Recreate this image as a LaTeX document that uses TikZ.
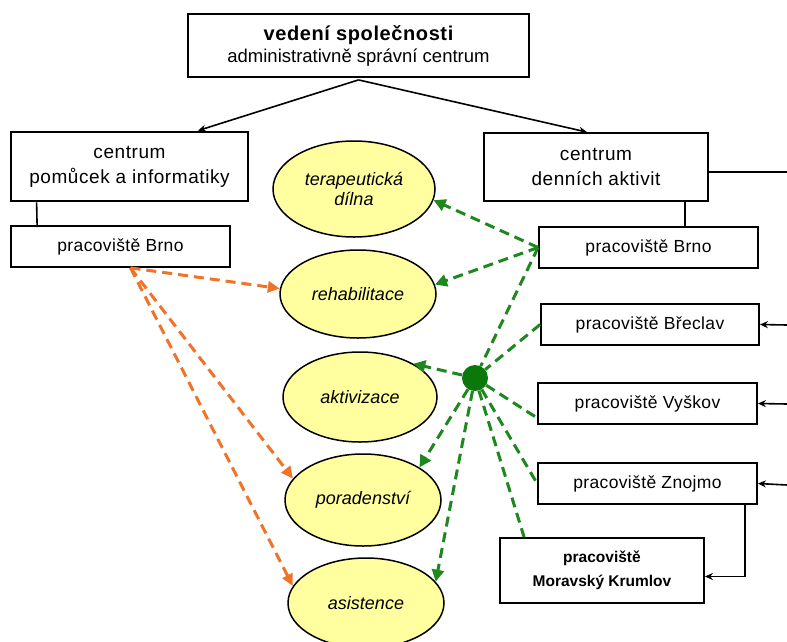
\documentclass[tikz,border=0pt]{standalone}
\usepackage{fontspec}
\setmainfont{Liberation Sans}
\usetikzlibrary{arrows.meta,shapes.geometric,calc}
\definecolor{grn}{RGB}{30,135,30}
\definecolor{dotgrn}{RGB}{10,120,10}
\definecolor{org}{RGB}{240,115,40}
\definecolor{yel}{RGB}{255,255,160}
\begin{document}
\begin{tikzpicture}[x=1pt,y=-1pt,
  box/.style={draw=black, line width=1.8pt, fill=white, inner sep=0pt, align=center,
    font=\addfontfeatures{LetterSpace=3}\fontsize{19}{25}\selectfont},
  pbox/.style={box, font=\addfontfeatures{LetterSpace=2}\fontsize{17.5}{21}\selectfont},
  oval/.style={ellipse, draw=black, line width=1.5pt, fill=yel, inner sep=0pt, align=center,
    font=\fontsize{18}{20}\selectfont\itshape},
  thin/.style={draw=black, line width=1.6pt},
  thinarrow/.style={thin, -{Stealth[length=8pt,width=7pt]}},
  gline/.style={draw=grn, line width=3pt, dash pattern=on 10pt off 6pt},
  garrow/.style={gline, -{Triangle[length=12pt,width=12pt]}},
  oline/.style={draw=org, line width=3pt, dash pattern=on 10pt off 6pt},
  oarrow/.style={oline, -{Triangle[length=12pt,width=11pt]}}
]
\useasboundingbox[fill=white] (0,0) rectangle (787,641);

% boxes
\node[box, minimum width=341pt, minimum height=63pt] (top) at (358.5,45.5)
  {{\fontsize{20}{24}\selectfont\bfseries vedení společnosti}\\[-3pt]
   {\addfontfeatures{LetterSpace=0}\fontsize{18.5}{20}\selectfont administrativně správní centrum}};
\node[box, line width=2.8pt, minimum width=237pt, minimum height=69pt] (cpi) at (129.5,166.5)
  {centrum\\pomůcek a informatiky};
\node[pbox, minimum width=219pt, minimum height=41pt] (lbrno) at (120.5,246.5) {pracoviště Brno};
\node[box, minimum width=224pt, minimum height=68pt] (cda) at (596,167)
  {centrum\\denních aktivit};
\node[pbox, minimum width=219pt, minimum height=41pt] (rbrno) at (648.5,247.5) {pracoviště Brno};
\node[pbox, minimum width=218pt, minimum height=41pt] (breclav) at (650,324.5) {pracoviště Břeclav};
\node[pbox, minimum width=219pt, minimum height=41pt] (vyskov) at (647.5,403.5) {pracoviště Vyškov};
\node[pbox, minimum width=219pt, minimum height=41pt] (znojmo) at (647.5,483.5) {pracoviště Znojmo};
\node[box, font=\bfseries\fontsize{15.5}{24}\selectfont, minimum width=204pt, minimum height=65pt] (krumlov) at (602,570.5)
  {pracoviště\\Moravský Krumlov};

% ellipses
\node[oval, minimum width=162pt, minimum height=96pt] (terap) at (354,189) {terapeutická\\dílna};
\node[oval, minimum width=156pt, minimum height=88pt] (rehab) at (358,294) {rehabilitace};
\node[oval, minimum width=154pt, minimum height=90pt] (aktiv) at (360,397) {aktivizace};
\node[oval, minimum width=156pt, minimum height=92pt] (porad) at (363,500) {poradenství};
\node[oval, minimum width=156pt, minimum height=90pt] (asist) at (366,603) {asistence};

% green dot
\node[circle, fill=dotgrn, minimum size=26pt, inner sep=0pt] (dot) at (475,378) {};

% edge coordinates
\coordinate (e1) at (787,172);
\coordinate (e2) at (787,325);
\coordinate (e3) at (787,404);
\coordinate (e4) at (787,485);

% black connectors
\draw[thinarrow] ([yshift=-2pt]top.south) -- ([xshift=68.5pt]cpi.north);
\draw[thinarrow] ([yshift=-2pt]top.south) -- ([xshift=-9pt]cda.north);
\draw[thin] ([xshift=27pt]cpi.south west) -- ([xshift=27pt]lbrno.north west);
\draw[thin] ([xshift=202pt]cda.south west) -- ([xshift=202pt]cda.south west |- rbrno.north);
\draw[thin] (cda.east |- e1) -- (e1);
\draw[thinarrow] (e2) -- (breclav.east);
\draw[thinarrow] (e3) -- (vyskov.east);
\draw[thinarrow] (e4) -- (znojmo.east);
\draw[thinarrow] ([xshift=-13pt]znojmo.south east) |- ([yshift=-6pt]krumlov.east);

% green dashed connectors
\draw[garrow] (rbrno.west) -- (terap.-8);
\draw[garrow] (rbrno.west) -- (rehab.7);
\draw[gline] (rbrno.west) -- (dot);
\draw[gline] (breclav.west) -- (dot);
\draw[gline] (dot) -- ([yshift=7pt]vyskov.south west);
\draw[gline] (dot) -- (znojmo.west);
\draw[gline] (dot) -- ([xshift=25pt]krumlov.north west);
\draw[garrow] (dot) -- (aktiv.32);
\draw[garrow] (dot) -- (porad.30);
\draw[garrow] (dot) -- (asist.17);

% orange dashed connectors
\draw[oarrow] ([xshift=10pt]lbrno.south) -- (rehab.176);
\draw[oarrow] ([xshift=10pt]lbrno.south) -- (porad.163);
\draw[oarrow] ([xshift=10pt]lbrno.south) -- (asist.167);
\end{tikzpicture}
\end{document}
